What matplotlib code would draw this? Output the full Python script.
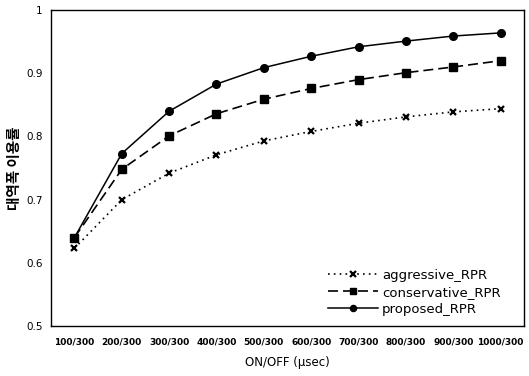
import matplotlib.pyplot as plt

# Data for the chart
categories = ["100/300", "200/300", "300/300", "400/300", "500/300",
              "600/300", "700/300", "800/300", "900/300", "1000/300"]
aggressive = [0.623, 0.700, 0.742, 0.771, 0.793, 0.808, 0.821, 0.831, 0.839, 0.844]
conservative = [0.640, 0.748, 0.801, 0.836, 0.859, 0.876, 0.890, 0.901, 0.910, 0.920]
proposed = [0.640, 0.773, 0.840, 0.883, 0.909, 0.927, 0.942, 0.951, 0.959, 0.964]

plt.rcParams['font.family'] = ['DejaVu Sans', 'Noto Sans CJK KR']

fig = plt.figure(figsize=(5.29, 3.76), dpi=100)
ax = fig.add_axes([0.096, 0.133, 0.895, 0.840])

x = range(len(categories))
ax.plot(x, aggressive, color='black', linestyle=(0, (1, 2.5)), linewidth=1.2,
        marker='x', markersize=5, markeredgewidth=1.6, label='aggressive_RPR')
ax.plot(x, conservative, color='black', linestyle=(0, (6, 3)), linewidth=1.2,
        marker='s', markersize=5.5, label='conservative_RPR')
ax.plot(x, proposed, color='black', linestyle='-', linewidth=1.1,
        marker='o', markersize=5.5, label='proposed_RPR')

ax.set_xlim(-0.5, 9.5)
ax.set_ylim(0.5, 1.0)
ax.set_xticks(list(x))
ax.set_xticklabels(categories, fontsize=6.5, fontweight='bold')
ax.set_yticks([0.5, 0.6, 0.7, 0.8, 0.9, 1.0])
ax.set_yticklabels(["0.5", "0.6", "0.7", "0.8", "0.9", "1"], fontsize=7.5)
ax.tick_params(axis='both', length=0, pad=8)
ax.tick_params(axis='y', pad=6)

ax.set_xlabel("ON/OFF (µsec)", fontsize=8.5, labelpad=7)
ax.set_ylabel("대역폭 이용률", fontsize=10.5, fontweight='bold',
              family=['Noto Sans CJK KR', 'DejaVu Sans'], labelpad=3)

for s in ax.spines.values():
    s.set_linewidth(1.0)

ax.legend(loc='lower right', frameon=False, fontsize=9.5, handlelength=3.8,
          handletextpad=0.3, labelspacing=0.3, markerscale=0.8,
          bbox_to_anchor=(0.975, -0.005))

fig.savefig("out.png", dpi=100)
